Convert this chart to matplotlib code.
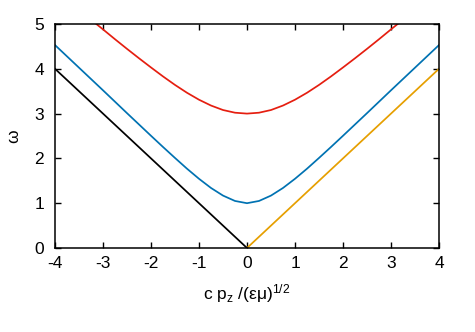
import matplotlib
matplotlib.use("Agg")
import matplotlib.pyplot as plt

# ---- data ----
black_x = [-4.0, 0.0]
black_y = [4.0, 0.0]

orange_x = [0.0, 4.0]
orange_y = [0.0, 4.0]

blue_x = [-4.0, -3.5, -3.0, -2.5, -2.0, -1.75, -1.5, -1.25, -1.0, -0.75, -0.5, -0.25, 0.0,
          0.25, 0.5, 0.75, 1.0, 1.25, 1.5, 1.75, 2.0, 2.5, 3.0, 3.5, 4.0]
blue_y = [4.53, 4.025, 3.52, 3.01, 2.505, 2.255, 2.01, 1.77, 1.545, 1.34, 1.17, 1.05, 1.0,
          1.05, 1.17, 1.34, 1.545, 1.77, 2.01, 2.255, 2.505, 3.01, 3.52, 4.025, 4.53]

red_x = [-3.15, -3.0, -2.75, -2.5, -2.25, -2.0, -1.75, -1.5, -1.25, -1.0, -0.75, -0.5, -0.25, 0.0,
         0.25, 0.5, 0.75, 1.0, 1.25, 1.5, 1.75, 2.0, 2.25, 2.5, 2.75, 3.0, 3.15]
red_y = [5.01, 4.88, 4.66, 4.445, 4.235, 4.03, 3.83, 3.64, 3.465, 3.31, 3.18, 3.08, 3.02, 3.0,
         3.02, 3.08, 3.18, 3.31, 3.465, 3.64, 3.83, 4.03, 4.235, 4.445, 4.66, 4.88, 5.01]

x_ticks = [-4, -3, -2, -1, 0, 1, 2, 3, 4]
y_ticks = [0, 1, 2, 3, 4, 5]

plt.rcParams['font.family'] = ['Liberation Sans', 'DejaVu Sans']
plt.rcParams['mathtext.fontset'] = 'custom'
plt.rcParams['mathtext.rm'] = 'Liberation Sans'
plt.rcParams['mathtext.it'] = 'Liberation Sans'

fig = plt.figure(figsize=(4.75, 3.32), dpi=100)
ax = fig.add_axes([55/475, 1-248/332, 384/475, 224/332])

lw = 1.25
ax.plot(red_x, red_y, color='#e51e10', lw=lw, solid_joinstyle='round')
ax.plot(blue_x, blue_y, color='#0072b2', lw=lw, solid_joinstyle='round')
ax.plot(orange_x, orange_y, color='#e69f00', lw=lw)
ax.plot(black_x, black_y, color='black', lw=lw)

ax.set_xlim(-4, 4)
ax.set_ylim(0, 5)
ax.set_xticks(x_ticks)
ax.set_yticks(y_ticks)
ax.set_xticklabels([str(v) for v in x_ticks])
ax.set_yticklabels([str(v) for v in y_ticks])
ax.tick_params(direction='in', top=True, right=True, length=4, width=1,
               labelsize=12.5, colors='black')
ax.tick_params(axis='x', pad=6)
ax.tick_params(axis='y', pad=8)
for s in ax.spines.values():
    s.set_linewidth(1.1)

ax.set_xlabel(r'c p$_{\mathrm{z}}$ /(εμ)$^{1/2}$', fontsize=12.5, labelpad=8)
ax.set_ylabel('ω', fontsize=12.5, labelpad=9)

fig.savefig('out.png', dpi=100)
